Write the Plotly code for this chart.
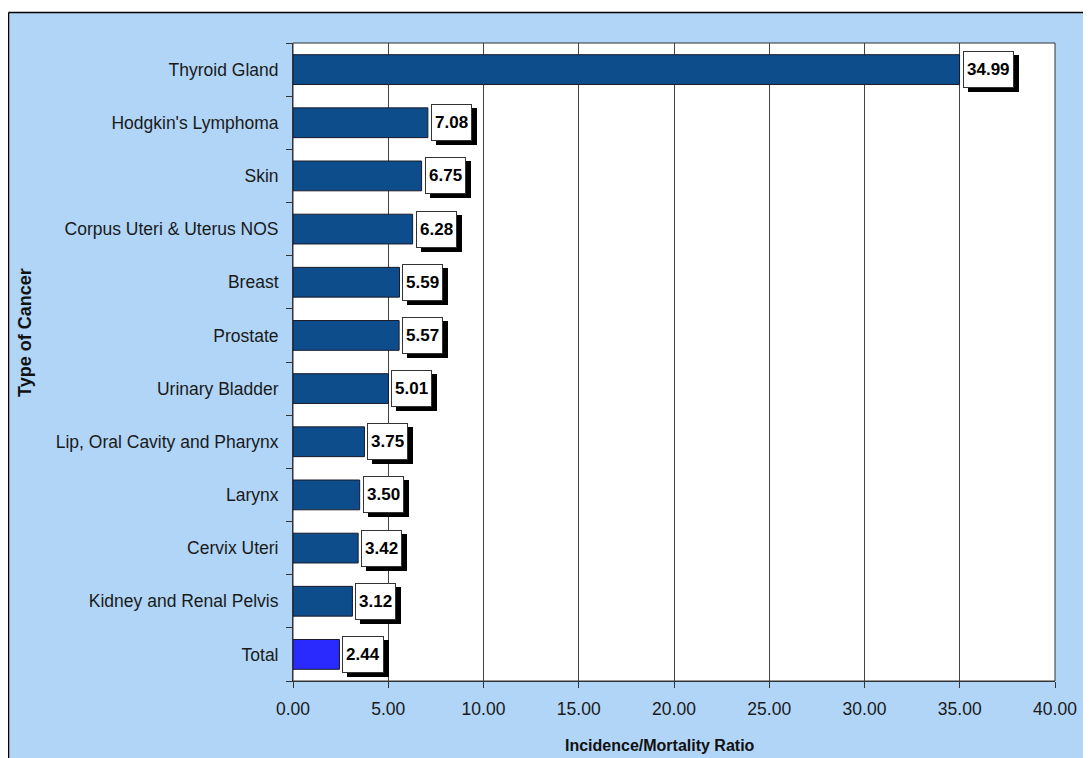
import plotly.graph_objects as go

# data, top to bottom as in the chart
cancer_types = ["Thyroid Gland", "Hodgkin's Lymphoma", "Skin", "Corpus Uteri & Uterus NOS",
                "Breast", "Prostate", "Urinary Bladder", "Lip, Oral Cavity and Pharynx",
                "Larynx", "Cervix Uteri", "Kidney and Renal Pelvis", "Total"]
ratios = [34.99, 7.08, 6.75, 6.28, 5.59, 5.57, 5.01, 3.75, 3.50, 3.42, 3.12, 2.44]
bar_colors = ["#0E4D8B"] * 11 + ["#2A2AFF"]
x_ticks = [0, 5, 10, 15, 20, 25, 30, 35, 40]

# the page body adds an 8px offset, so the figure is a bit smaller than the window
OFF = 8
W, H = 1091 - OFF, 758 - OFF
ml, mr, mt, mb = 293 - OFF, 36, 43 - OFF, 77
pw, ph = W - ml - mr, H - mt - mb


def px_x(p):
    # picture pixel -> paper coordinate
    return (p - OFF - ml) / pw


def px_y(p):
    return (H - mb - (p - OFF)) / ph


fig = go.Figure()
fig.add_trace(go.Bar(
    y=cancer_types, x=ratios, orientation="h",
    marker=dict(color=bar_colors, line=dict(color="#1A1A2A", width=1)),
    hoverinfo="x+y", showlegend=False,
))

# value boxes with a black drop shadow
annots = []
for name, v in zip(cancer_types, ratios):
    txt = f"<b>{v:.2f}</b>"
    common = dict(x=v, y=name, xref="x", yref="y", text=txt, showarrow=False,
                  xanchor="left", yanchor="middle", height=29, borderpad=3,
                  font=dict(family="Arial", size=17, color="black"))
    annots.append(dict(common, xshift=8, yshift=-4, bgcolor="black",
                       bordercolor="black", borderwidth=1))
    annots.append(dict(common, xshift=3, yshift=0, bgcolor="white",
                       bordercolor="#333333", borderwidth=1))

annots.append(dict(text="<b>Incidence/Mortality Ratio</b>", xref="paper", yref="paper",
                   x=px_x(660), y=px_y(745), xanchor="center", yanchor="middle", showarrow=False,
                   font=dict(family="Arial", size=16, color="#111111")))
annots.append(dict(text="<b>Type of Cancer</b>", xref="paper", yref="paper",
                   x=px_x(25), y=px_y(333), xanchor="center", yanchor="middle", showarrow=False,
                   textangle=-90, font=dict(family="Arial", size=18, color="#111111")))

shapes = [
    # light blue chart frame (only top and left edges are visible)
    dict(type="rect", xref="paper", yref="paper", layer="below",
         x0=px_x(8.5), x1=px_x(1110), y0=px_y(780), y1=px_y(12.5),
         fillcolor="#B0D5F7", line=dict(width=0)),
    dict(type="line", xref="paper", yref="paper", layer="below",
         x0=px_x(8.5), x1=px_x(1110), y0=px_y(12.5), y1=px_y(12.5),
         line=dict(color="black", width=1.5)),
    dict(type="line", xref="paper", yref="paper", layer="below",
         x0=px_x(8.5), x1=px_x(8.5), y0=px_y(12.5), y1=px_y(780),
         line=dict(color="black", width=1.5)),
    # white plot area
    dict(type="rect", xref="paper", yref="paper", layer="below",
         x0=0, x1=1, y0=0, y1=1, fillcolor="white", line=dict(color="#333333", width=1)),
]

fig.update_layout(
    width=W, height=H,
    margin=dict(l=ml, r=mr, t=mt, b=mb),
    paper_bgcolor="white", plot_bgcolor="rgba(0,0,0,0)",
    bargap=0.44,
    font=dict(family="Arial", size=17.5, color="#1A1A1A"),
    annotations=annots, shapes=shapes,
)
fig.update_xaxes(range=[0, 40], tickvals=x_ticks, ticktext=[f"{t:.2f}" for t in x_ticks],
                 showgrid=True, gridcolor="#444444", gridwidth=1, zeroline=False,
                 showline=True, linecolor="#333333", linewidth=1,
                 ticks="outside", ticklen=6, tickcolor="#333333", ticklabelstandoff=6)
fig.update_yaxes(categoryorder="array", categoryarray=cancer_types[::-1],
                 showgrid=False, showline=True, linecolor="#333333", linewidth=1,
                 ticks="outside", ticklen=6, tickcolor="#333333", tickson="boundaries",
                 ticklabelstandoff=10)

fig.write_html("out.html")
